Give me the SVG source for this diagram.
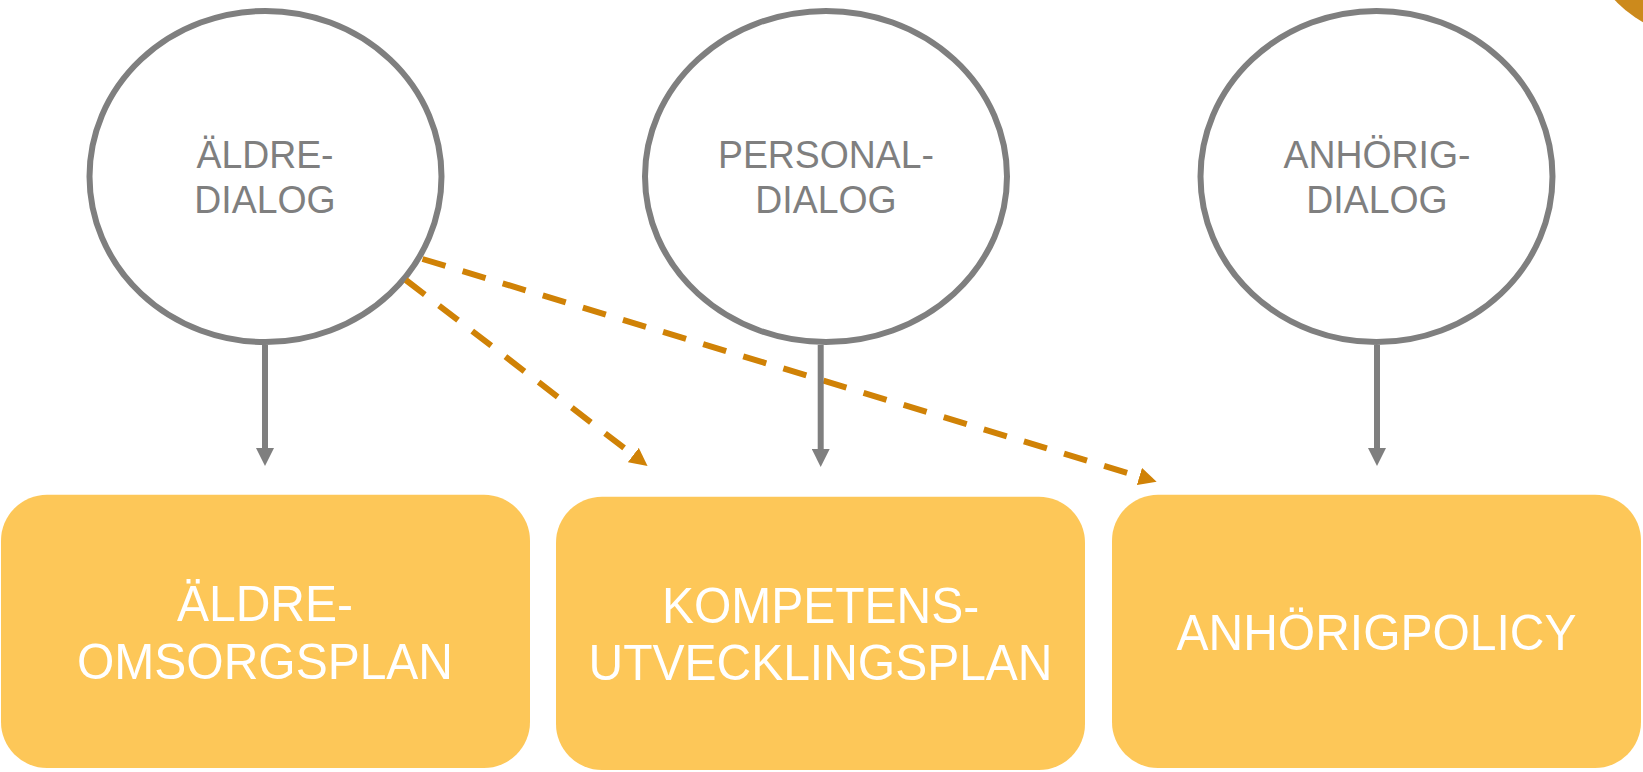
<svg xmlns="http://www.w3.org/2000/svg" width="1643" height="772" viewBox="0 0 1643 772">
<style>
text{font-family:"Liberation Sans",Arial,sans-serif;text-anchor:middle}
.d{fill:#fff;stroke:#7f7f7f;stroke-width:6}
.dt{fill:#7f7f7f;font-size:37.4px}
.p{fill:#fdc758}
.pt{fill:#fff;font-size:48px}
.g{stroke:#7f7f7f;stroke-width:6;fill:none}
.o{stroke:#d08206;stroke-width:6;fill:none;stroke-dasharray:24 17.9}
</style>
<defs>
<marker id="hg" markerUnits="userSpaceOnUse" markerWidth="18" markerHeight="18" refX="0" refY="9" orient="auto"><path d="M0,0L18,9L0,18Z" fill="#7f7f7f"/></marker>
<marker id="ho" markerUnits="userSpaceOnUse" markerWidth="18" markerHeight="18" refX="0" refY="9" orient="auto"><path d="M0,0L18,9L0,18Z" fill="#d08206"/></marker>
</defs>
<circle id="corner" cx="1700" cy="-80" r="117" fill="#cc8a1c"/>
<g id="n1"><ellipse class="d" cx="265.5" cy="176.5" rx="176" ry="165.6"/><text class="dt" transform="matrix(1 0 0 1.03 265 168)">ÄLDRE-</text><text class="dt" transform="matrix(1 0 0 1.03 265 212.7)">DIALOG</text></g>
<g id="n2"><ellipse class="d" cx="826" cy="176.5" rx="181" ry="165.6"/><text class="dt" transform="matrix(1 0 0 1.03 826 168)">PERSONAL-</text><text class="dt" transform="matrix(1 0 0 1.03 826 212.7)">DIALOG</text></g>
<g id="n3"><ellipse class="d" cx="1376.5" cy="176.5" rx="176" ry="165.6"/><text class="dt" transform="matrix(1 0 0 1.03 1377 168)">ANHÖRIG-</text><text class="dt" transform="matrix(1 0 0 1.03 1377 212.7)">DIALOG</text></g>
<g id="n4"><rect class="p" x="1" y="494.7" width="529" height="273.3" rx="46" ry="46"/><text class="pt" transform="matrix(1 0 0 1.04 265 620.7)">ÄLDRE-</text><text class="pt" transform="matrix(1 0 0 1.04 265 678.7)">OMSORGSPLAN</text></g>
<g id="n5"><rect class="p" x="556" y="496.7" width="529" height="273.3" rx="46" ry="46"/><text class="pt" transform="matrix(1 0 0 1.04 820.5 622.7)">KOMPETENS-</text><text class="pt" transform="matrix(1 0 0 1.04 820.5 680)">UTVECKLINGSPLAN</text></g>
<g id="n6"><rect class="p" x="1112" y="494.7" width="529" height="273.3" rx="46" ry="46"/><text class="pt" transform="matrix(1 0 0 1.04 1376.5 649.7)">ANHÖRIGPOLICY</text></g>
<g id="connectors">
<path class="o" marker-end="url(#ho)" d="M422.5,259L1139.4,476.5"/>
<path class="o" marker-end="url(#ho)" d="M405.8,280L633.3,455"/>
<path class="g" marker-end="url(#hg)" d="M265,345V448"/>
<path class="g" marker-end="url(#hg)" d="M820.7,345V449"/>
<path class="g" marker-end="url(#hg)" d="M1377,345V448"/>
</g>
</svg>
